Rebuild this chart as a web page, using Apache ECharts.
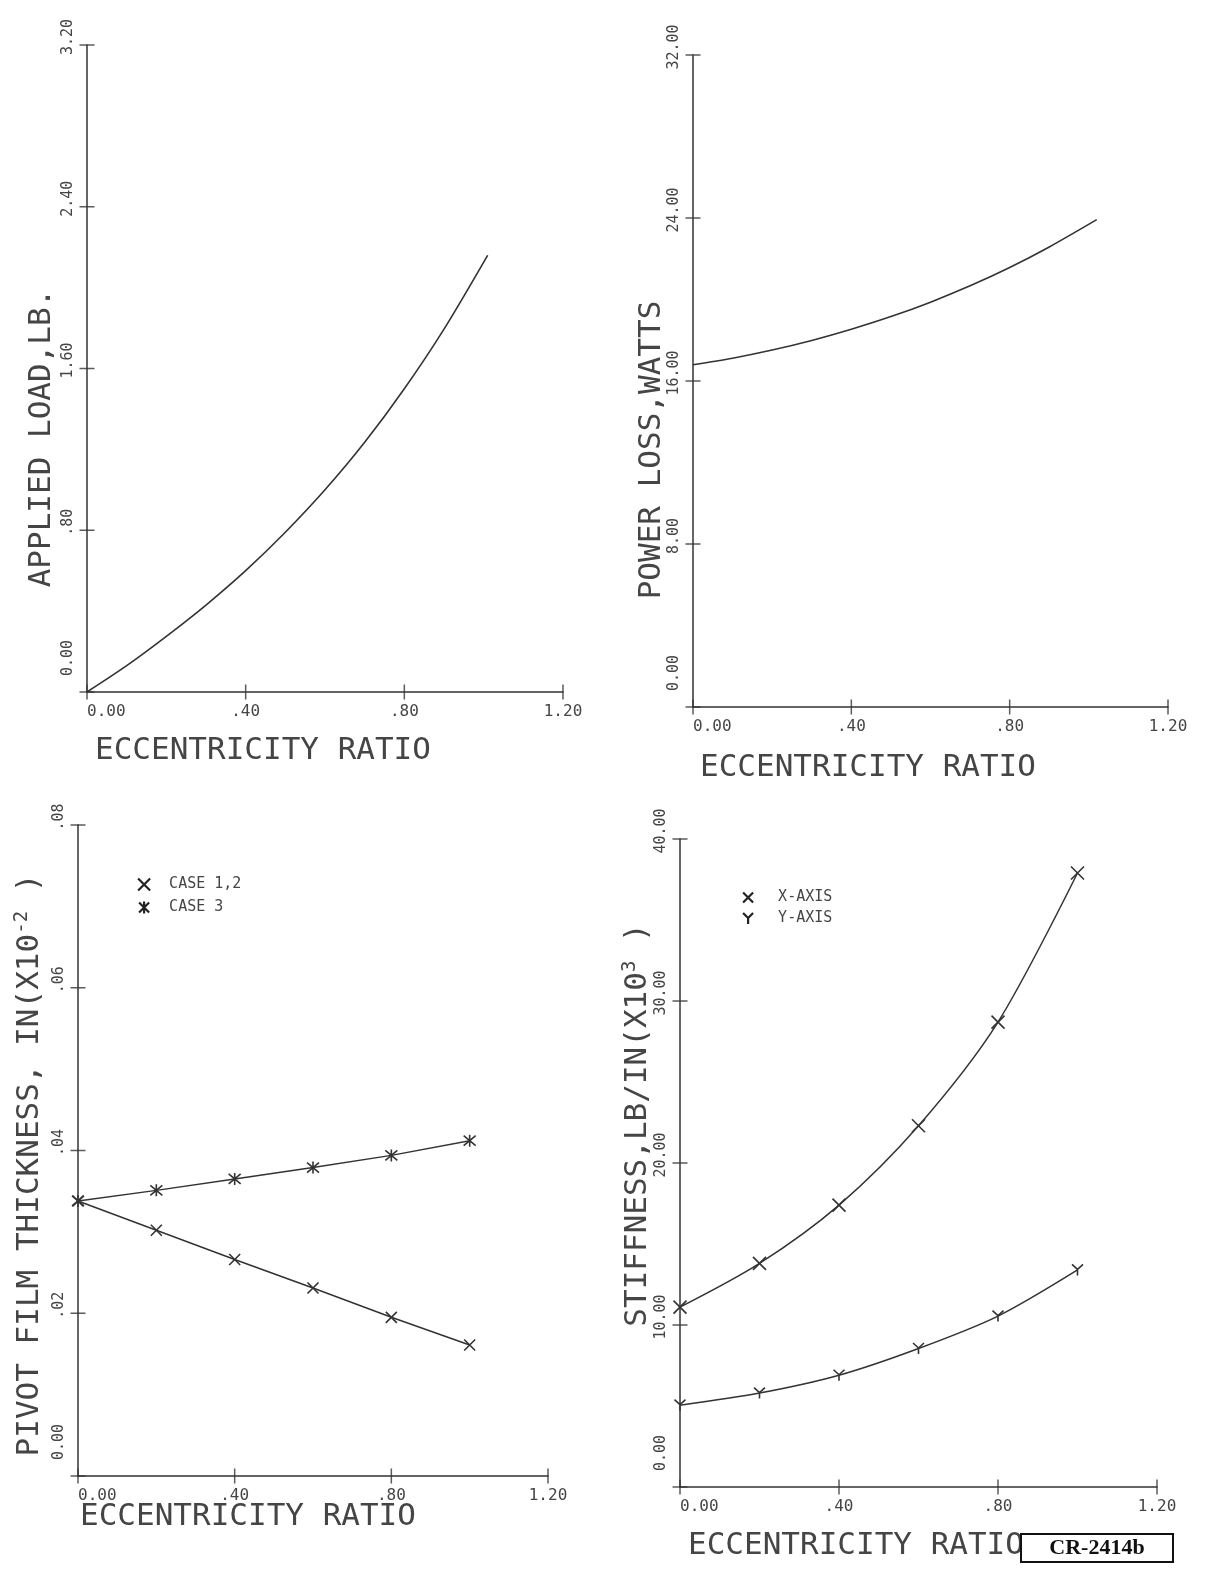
<!DOCTYPE html>
<html>
<head>
<meta charset="utf-8">
<title>Bearing characteristics vs eccentricity ratio</title>
<script src="https://cdn.jsdelivr.net/npm/echarts@6/dist/echarts.min.js"></script>
<style>
  html, body { margin: 0; padding: 0; background: #fff; }
  #chart { width: 1216px; height: 1571px; }
</style>
</head>
<body>
<div id="chart"></div>
<script>
const MONO = "DejaVu Sans Mono";
const INK = "#333";
const TEXT = "#454545";

// applied load (top left)
const loadEcc = [0, 0.1, 0.2, 0.3, 0.4, 0.5, 0.6, 0.7, 0.8, 0.9, 1.01];
const loadLb = [0, 0.13, 0.275, 0.43, 0.60, 0.79, 1.0, 1.235, 1.50, 1.795, 2.16];

// power loss (top right)
const powerEcc = [0, 0.1, 0.2, 0.3, 0.4, 0.5, 0.6, 0.7, 0.8, 0.9, 1.02];
const powerWatts = [16.8, 17.12, 17.52, 17.99, 18.54, 19.16, 19.87, 20.67, 21.57, 22.58, 23.92];

// computed points (bottom panels)
const pointEcc = [0, 0.2, 0.4, 0.6, 0.8, 1.0];
const filmCase12 = [0.0338, 0.0302, 0.0266, 0.0231, 0.0195, 0.0161];
const filmCase3 = [0.0338, 0.0351, 0.0365, 0.0379, 0.0394, 0.0412];
const stiffX = [11.1, 13.8, 17.4, 22.3, 28.7, 37.9];
const stiffY = [5.05, 5.8, 6.9, 8.55, 10.55, 13.4];

// tick values
const xTicks = [0, 0.4, 0.8, 1.2];
const yTicks = [
  [0, 0.8, 1.6, 2.4, 3.2],
  [0, 8, 16, 24, 32],
  [0, 0.02, 0.04, 0.06, 0.08],
  [0, 10, 20, 30, 40]
];

const grids = [
  { left: 87, top: 45, width: 476, height: 647 },
  { left: 693, top: 55, width: 475, height: 652 },
  { left: 78, top: 825, width: 470, height: 651 },
  { left: 680, top: 839, width: 477, height: 648 }
];

const crossPath = "path://M0,0L10,10M10,0L0,10";
const starPath = "path://M0,0L10,10M10,0L0,10M5,-1L5,11";
const yPath = "path://M0,0L5,5M10,0L5,5M5,5L5,11";

function pairs(xs, ys){ return xs.map((x, i) => [x, ys[i]]); }

function fmt(v){
  if(Math.abs(v) < 1e-9) return "0.00";
  const s = v.toFixed(2);
  return s.startsWith("0") ? s.slice(1) : s;
}

const line = { color: INK, width: 1.5 };

function xAxis(g){
  return { type: "value", gridIndex: g, min: 0, max: xTicks[xTicks.length - 1],
    interval: xTicks[1] - xTicks[0], position: "bottom", splitLine: { show: false },
    axisLine: { show: true, onZero: false, lineStyle: line },
    axisTick: { show: false },
    axisLabel: { formatter: fmt, fontFamily: MONO, fontSize: 16, color: TEXT, margin: 12,
      showMinLabel: true, showMaxLabel: true, alignMinLabel: "left" } };
}

function yAxis(g){
  const t = yTicks[g];
  return { type: "value", gridIndex: g, min: 0, max: t[t.length - 1],
    interval: t[1] - t[0], position: "left", splitLine: { show: false },
    axisLine: { show: true, onZero: false, lineStyle: line },
    axisTick: { show: false },
    axisLabel: { formatter: fmt, fontFamily: MONO, fontSize: 15, color: TEXT, margin: 11,
      rotate: 90, padding: [0, 0, 0, 16],
      showMinLabel: true, showMaxLabel: true, alignMinLabel: "left" } };
}

// plotter-style ticks that cross the axis line
function crossTicks(g){
  const common = { type: "scatter", xAxisIndex: g, yAxisIndex: g, symbol: "rect",
    itemStyle: { color: INK }, clip: false, silent: true, z: 3 };
  return [
    { ...common, symbolSize: [1.5, 15], data: xTicks.map(v => [v, 0]) },
    { ...common, symbolSize: [15, 1.5], data: yTicks[g].map(v => [0, v]) }
  ];
}

const marker = { color: INK, borderColor: INK, borderWidth: 1.6 };
const legendMarker = { color: INK, borderColor: "#222", borderWidth: 2.2 };

function title(text, x, y, rotated, rich){
  return {
    type: "text", x, y, rotation: rotated ? Math.PI / 2 : 0, silent: true,
    style: {
      text, fill: TEXT, fontFamily: MONO, fontSize: 31,
      align: rotated ? "center" : "left", verticalAlign: "middle",
      rich: rich || undefined
    }
  };
}

const supRich = { sup: { fontSize: 19, fontFamily: MONO, fill: TEXT, padding: [0, 0, 16, 0] } };

const chart = echarts.init(document.getElementById("chart"), null, { renderer: "canvas" });

chart.setOption({
  animation: false,
  backgroundColor: "#fff",
  grid: grids,
  xAxis: [0, 1, 2, 3].map(xAxis),
  yAxis: [0, 1, 2, 3].map(yAxis),
  legend: [
    { left: 137, top: 877, orient: "vertical", padding: 0, itemGap: 8,
      itemWidth: 12, itemHeight: 12, selectedMode: false,
      itemStyle: legendMarker,
      textStyle: { fontFamily: MONO, fontSize: 15, color: TEXT, padding: [0, 0, 0, 14], lineHeight: 15 },
      data: [{ name: "CASE 1,2", icon: crossPath }, { name: "CASE 3", icon: starPath }] },
    { left: 742, top: 890, orient: "vertical", padding: 0, itemGap: 6,
      itemWidth: 10, itemHeight: 11, selectedMode: false,
      itemStyle: legendMarker,
      textStyle: { fontFamily: MONO, fontSize: 15, color: TEXT, padding: [0, 0, 0, 20], lineHeight: 14 },
      data: [{ name: "X-AXIS", icon: crossPath }, { name: "Y-AXIS", icon: yPath }] }
  ],
  series: [
    { name: "Applied load", type: "line", xAxisIndex: 0, yAxisIndex: 0,
      data: pairs(loadEcc, loadLb), smooth: 0.3, symbol: "none",
      lineStyle: { color: INK, width: 1.6 }, silent: true },
    { name: "Power loss", type: "line", xAxisIndex: 1, yAxisIndex: 1,
      data: pairs(powerEcc, powerWatts), smooth: 0.3, symbol: "none",
      lineStyle: { color: INK, width: 1.6 }, silent: true },
    { name: "CASE 1,2", type: "line", xAxisIndex: 2, yAxisIndex: 2,
      data: pairs(pointEcc, filmCase12), symbol: crossPath, symbolSize: 11,
      lineStyle: { color: INK, width: 1.5 }, itemStyle: marker, silent: true },
    { name: "CASE 3", type: "line", xAxisIndex: 2, yAxisIndex: 2,
      data: pairs(pointEcc, filmCase3), symbol: starPath, symbolSize: 12,
      lineStyle: { color: INK, width: 1.5 }, itemStyle: marker, silent: true },
    { name: "X-AXIS", type: "line", xAxisIndex: 3, yAxisIndex: 3,
      data: pairs(pointEcc, stiffX), smooth: 0.3, symbol: crossPath, symbolSize: 13,
      lineStyle: { color: INK, width: 1.5 }, itemStyle: marker, silent: true },
    { name: "Y-AXIS", type: "line", xAxisIndex: 3, yAxisIndex: 3,
      data: pairs(pointEcc, stiffY), smooth: 0.3, symbol: yPath, symbolSize: 11,
      lineStyle: { color: INK, width: 1.5 }, itemStyle: marker, silent: true },
    ...crossTicks(0), ...crossTicks(1), ...crossTicks(2), ...crossTicks(3)
  ],
  graphic: [
    title("ECCENTRICITY RATIO", 95, 751, false),
    title("ECCENTRICITY RATIO", 700, 768, false),
    title("ECCENTRICITY RATIO", 80, 1517, false),
    title("ECCENTRICITY RATIO", 688, 1546, false),
    title("APPLIED LOAD,LB.", 42, 438, true),
    title("POWER LOSS,WATTS", 652, 450, true),
    title("PIVOT FILM THICKNESS, IN(X10{sup|-2} )", 30, 1165, true, supRich),
    title("STIFFNESS,LB/IN(X10{sup|3} )", 638, 1125, true, supRich),
    { type: "group", left: 1020, top: 1533, silent: true, children: [
      { type: "rect", shape: { x: 0, y: 0, width: 152, height: 28 },
        style: { fill: "#fff", stroke: "#111", lineWidth: 2 } },
      { type: "text", x: 76, y: 14,
        style: { text: "CR-2414b", fill: "#111", fontFamily: "Liberation Serif",
          fontWeight: "bold", fontSize: 22, align: "center", verticalAlign: "middle" } }
    ] }
  ]
});

window.addEventListener("resize", () => chart.resize());
</script>
</body>
</html>
